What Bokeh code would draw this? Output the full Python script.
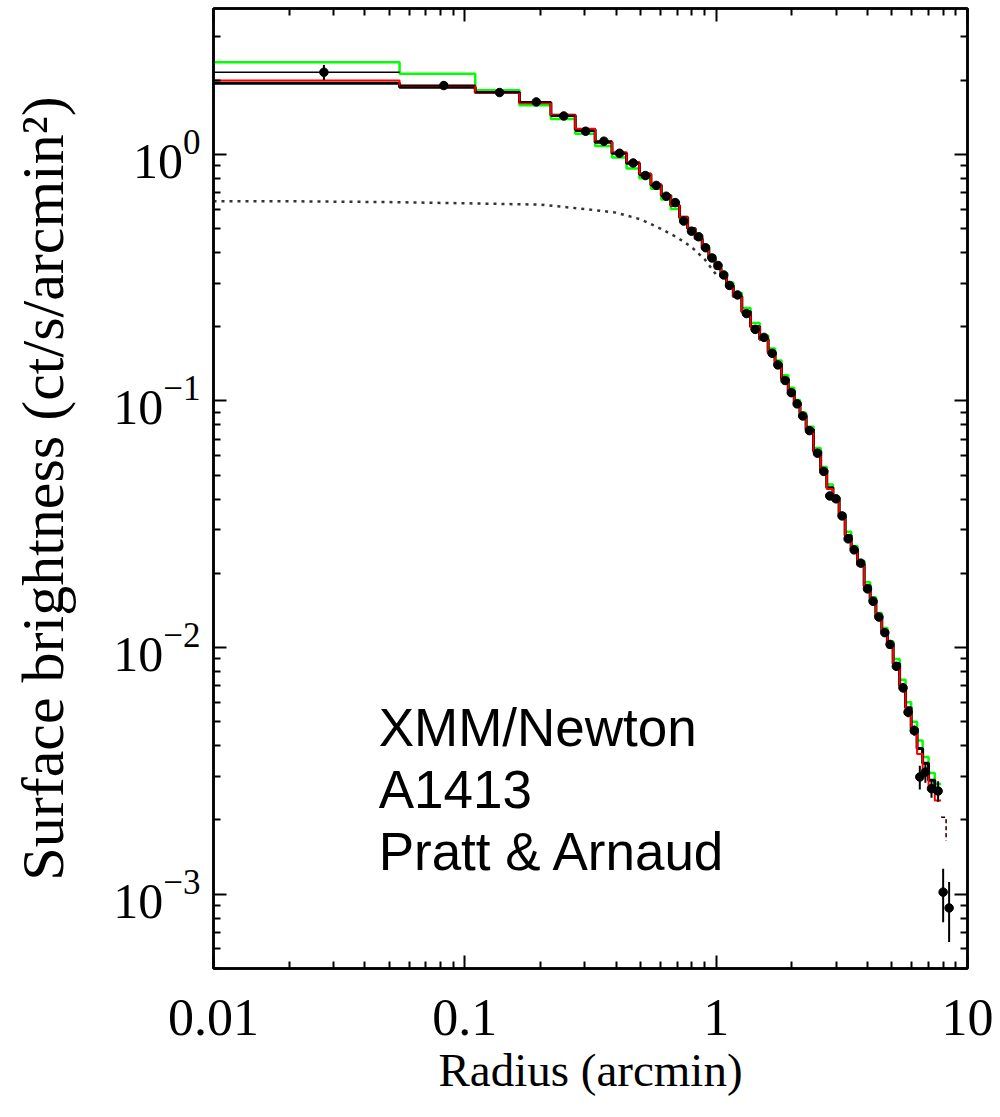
from bokeh.plotting import figure
from bokeh.models import FixedTicker, CustomJSTickFormatter, LogAxis, Label, Range1d
from bokeh.embed import file_html
from bokeh.resources import INLINE

# ---------------- data ----------------
# histogram bin edges (arcmin); first bin starts at r=0 (drawn from off-axis)
bin_edges = [0.001, 0.055, 0.11, 0.165, 0.22, 0.275, 0.33, 0.385, 0.44, 0.495,
             0.55, 0.605, 0.66, 0.715, 0.77, 0.825, 0.88, 0.935, 0.99, 1.045,
             1.10, 1.17, 1.265, 1.37, 1.49, 1.61, 1.715, 1.82, 1.935, 2.045,
             2.155, 2.28, 2.44, 2.605, 2.755, 2.915, 3.085, 3.26, 3.445, 3.65,
             3.88, 4.10, 4.32, 4.56, 4.80, 5.06, 5.37, 5.67, 5.97, 6.30,
             6.63, 7.00, 7.41, 7.85]

# data points: radius, surface brightness, error
r_data = [0.0275, 0.0825, 0.1375, 0.1925, 0.2475, 0.3025, 0.3575, 0.4125, 0.4675, 0.5225,
          0.5775, 0.6325, 0.6875, 0.7425, 0.7975, 0.8525, 0.9075, 0.9625, 1.0175, 1.0725,
          1.13, 1.216, 1.32, 1.43, 1.55, 1.67, 1.76, 1.88, 1.99, 2.10,
          2.21, 2.35, 2.53, 2.68, 2.83, 3.00, 3.17, 3.35, 3.54, 3.76,
          4.00, 4.21, 4.44, 4.69, 4.92, 5.21, 5.54, 5.80, 6.14, 6.46,
          6.80, 7.19, 7.64, 8.00, 8.45]
s_data = [2.15, 1.90, 1.78, 1.63, 1.43, 1.24, 1.13, 1.01, 0.922, 0.82,
          0.748, 0.676, 0.637, 0.536, 0.488, 0.463, 0.418, 0.380, 0.354, 0.324,
          0.294, 0.269, 0.226, 0.195, 0.181, 0.156, 0.140, 0.121, 0.108, 0.0973,
          0.0869, 0.0758, 0.0614, 0.0518, 0.0412, 0.0401, 0.0342, 0.0276, 0.0249, 0.0220,
          0.0173, 0.0154, 0.0133, 0.0115, 0.0103, 0.0084, 0.00687, 0.00547, 0.00461, 0.00299,
          0.00313, 0.00268, 0.00262, 0.00102, 0.00088]
s_err = [0.15, 0.07, 0.05, 0.045, 0.04, 0.035, 0.03, 0.028, 0.025, 0.022,
         0.02, 0.018, 0.017, 0.015, 0.014, 0.013, 0.012, 0.011, 0.010, 0.009,
         0.008, 0.0075, 0.0065, 0.0058, 0.0052, 0.0046, 0.0042, 0.0037, 0.0033, 0.003,
         0.0027, 0.0024, 0.002, 0.0017, 0.0015, 0.0014, 0.0012, 0.001, 0.0009, 0.0008,
         0.00065, 0.0006, 0.0005, 0.00045, 0.0004, 0.00035, 0.0003, 0.00025, 0.00022, 0.00033,
         0.0003, 0.00022, 0.00025, 0.00025, 0.00024]
r_lo_last = [7.9, 8.35]
r_hi_last = [8.1, 8.55]

# three fitted models (binned)
model_black = [1.94, 1.87, 1.78, 1.62, 1.44, 1.26, 1.12, 1.01, 0.92, 0.83,
               0.75, 0.68, 0.62, 0.555, 0.50, 0.455, 0.415, 0.378, 0.345, 0.318,
               0.293, 0.265, 0.230, 0.200, 0.178, 0.157, 0.141, 0.123, 0.110, 0.098,
               0.087, 0.0765, 0.0625, 0.0525, 0.0445, 0.0395, 0.0340, 0.0285, 0.0250, 0.0218,
               0.0178, 0.0155, 0.0134, 0.0116, 0.0102, 0.0086, 0.0070, 0.0057, 0.0047, 0.0039,
               0.0034, 0.0029, 0.0026]
model_red = [1.99, 1.90, 1.77, 1.61, 1.44, 1.27, 1.13, 1.02, 0.93, 0.835,
             0.755, 0.68, 0.62, 0.555, 0.50, 0.455, 0.415, 0.378, 0.345, 0.318,
             0.292, 0.264, 0.229, 0.199, 0.177, 0.156, 0.140, 0.122, 0.109, 0.097,
             0.086, 0.0755, 0.0620, 0.0520, 0.0440, 0.0392, 0.0337, 0.0282, 0.0247, 0.0215,
             0.0176, 0.0153, 0.0132, 0.0114, 0.0100, 0.0084, 0.0068, 0.0055, 0.0045, 0.0037,
             0.0032, 0.0027, 0.0024]
model_green = [2.36, 2.12, 1.82, 1.58, 1.39, 1.21, 1.08, 0.97, 0.875, 0.80,
               0.725, 0.655, 0.60, 0.545, 0.50, 0.46, 0.425, 0.39, 0.357, 0.328,
               0.302, 0.274, 0.238, 0.207, 0.184, 0.163, 0.146, 0.127, 0.113, 0.101,
               0.0895, 0.0785, 0.0645, 0.0540, 0.0458, 0.0408, 0.0350, 0.0295, 0.0258, 0.0225,
               0.0184, 0.0160, 0.0138, 0.0120, 0.0106, 0.0090, 0.0074, 0.0060, 0.0050, 0.0042,
               0.0036, 0.0031, 0.0028]

# model extension beyond the last bin
ext_r = [7.85, 8.22, 8.22]
ext_s = [0.00205, 0.00205, 0.00165]

# dotted beta-model component
beta_r = [0.01, 0.02, 0.05, 0.1, 0.2, 0.3, 0.4, 0.5, 0.6, 0.7, 0.8, 0.9, 1.0]
beta_s = [0.645, 0.645, 0.640, 0.633, 0.625, 0.60, 0.58, 0.545, 0.50, 0.46, 0.42, 0.375, 0.325]

x_ticks = [0.01, 0.1, 1, 10]
y_ticks = [0.001, 0.01, 0.1, 1]

annotation = ["XMM/Newton", "A1413", "Pratt & Arnaud"]

# ---------------- figure ----------------
SERIF = "Liberation Serif"

p = figure(width=1000, height=1117, x_axis_type="log", y_axis_type="log",
           x_range=Range1d(0.01, 10), y_range=Range1d(5e-4, 3.9),
           output_backend="svg", toolbar_location=None,
           min_border_left=213, min_border_right=33,
           min_border_top=8, min_border_bottom=149)
p.background_fill_color = "white"
p.border_fill_color = "white"
p.grid.visible = False
p.outline_line_color = "black"
p.outline_line_width = 2.5

x_minor = [m * d for d in [0.01, 0.1, 1] for m in range(2, 10)]
y_minor = [m * d for d in [0.0001, 0.001, 0.01, 0.1, 1] for m in range(2, 10)]


def style_axis(ax):
    ax.axis_line_color = "black"
    ax.axis_line_width = 2.5
    ax.major_tick_in = 13
    ax.major_tick_out = 0
    ax.minor_tick_in = 7
    ax.minor_tick_out = 0
    ax.major_tick_line_width = 2
    ax.minor_tick_line_width = 2
    ax.major_tick_line_color = "black"
    ax.minor_tick_line_color = "black"


xa = p.xaxis[0]
xa.ticker = FixedTicker(ticks=x_ticks, minor_ticks=x_minor)
xa.formatter = CustomJSTickFormatter(code="return tick.toString()")
style_axis(xa)
xa.major_label_text_font = SERIF
xa.major_label_text_font_size = "52px"
xa.major_label_text_color = "black"
xa.major_label_standoff = 31
xa.axis_label = "Radius (arcmin)"
xa.axis_label_text_font = SERIF
xa.axis_label_text_font_size = "47px"
xa.axis_label_text_font_style = "normal"
xa.axis_label_text_color = "black"
xa.axis_label_standoff = 6

ya = p.yaxis[0]
ya.ticker = FixedTicker(ticks=y_ticks, minor_ticks=y_minor)
style_axis(ya)
ya.major_label_text_font = SERIF
ya.major_label_text_font_size = "50px"
ya.major_label_text_color = "black"
ya.major_label_standoff = 13
ya.axis_label = "Surface brightness (ct/s/arcmin\u00b2)"
ya.axis_label_text_font = SERIF
ya.axis_label_text_font_size = "60px"
ya.axis_label_text_font_style = "normal"
ya.axis_label_text_color = "black"
ya.axis_label_standoff = 34

top = LogAxis(ticker=FixedTicker(ticks=x_ticks, minor_ticks=x_minor),
              formatter=CustomJSTickFormatter(code="return ''"))
style_axis(top)
top.major_label_standoff = 0
top.major_label_text_font_size = "2px"
p.add_layout(top, "above")
right = LogAxis(ticker=FixedTicker(ticks=y_ticks, minor_ticks=y_minor),
                formatter=CustomJSTickFormatter(code="return ''"))
style_axis(right)
right.major_label_standoff = 0
right.major_label_text_font_size = "2px"
p.add_layout(right, "right")

# dotted model component
p.line(beta_r, beta_s, line_color="#333333", line_width=2.5, line_dash="3 5")

# model histograms
p.step(bin_edges, model_green + model_green[-1:], mode="after", line_color="#00ff00", line_width=2.5)
p.step(bin_edges, model_black + model_black[-1:], mode="after", line_color="black", line_width=3)
p.step(bin_edges, model_red + model_red[-1:], mode="after", line_color="#ff0000", line_width=2)
p.line(ext_r, ext_s, line_color="black", line_width=1.5, line_dash="4 3")
p.line(ext_r, ext_s, line_color="#ff0000", line_width=1.5, line_dash="1 6")

# data points with error bars
x_lo = bin_edges[:-1] + r_lo_last
x_hi = bin_edges[1:] + r_hi_last
y_lo = [s - e for s, e in zip(s_data, s_err)]
y_hi = [s + e for s, e in zip(s_data, s_err)]
p.segment(x0=r_data, y0=y_lo, x1=r_data, y1=y_hi, line_color="black", line_width=2)
p.segment(x0=x_lo, y0=s_data, x1=x_hi, y1=s_data, line_color="black", line_width=1.5)
p.scatter(r_data, s_data, size=8.5, marker="circle", fill_color="black", line_color="black")

# annotation text
ann_x = 0.0454
ann_y = [0.00476, 0.00266, 0.00149]
for txt, yy in zip(annotation, ann_y):
    p.add_layout(Label(x=ann_x, y=yy, text=txt, text_font="Liberation Sans",
                       text_font_size="53px", text_color="black",
                       text_baseline="alphabetic", text_align="left"))

open("out.html", "w").write(file_html(p, INLINE))
